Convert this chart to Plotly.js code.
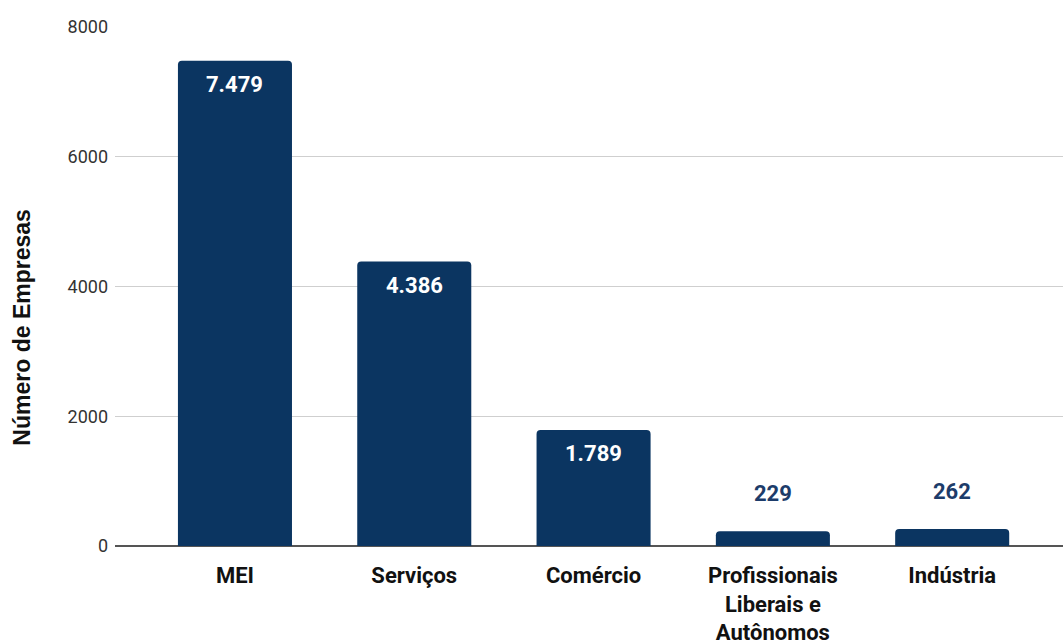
<!DOCTYPE html>
<html>
<head>
<meta charset="utf-8">
<script src="https://cdn.plot.ly/plotly-3.0.1.min.js"></script>
<style>html,body{margin:0;padding:0;background:#fff;}#chart{width:1063px;height:644px;}</style>
</head>
<body>
<div id="chart"></div>
<script>
const categories = ["MEI", "Serviços", "Comércio", "Profissionais<br>Liberais e<br>Autônomos", "Indústria"];
const values = [7479, 4386, 1789, 229, 262];
const yTicks = [0, 2000, 4000, 6000, 8000];
const yTitle = "Número de Empresas";

const barColor = "#0b3561";
const outsideColor = "#1d3c6a";

const trace = {
  type: "bar",
  x: categories,
  y: values,
  marker: {color: barColor, cornerradius: 4},
  textposition: "none",
  hoverinfo: "x+y"
};

const annotations = values.map((v, i) => {
  const inside = v > 1000;
  return {
    x: categories[i], y: v, xref: "x", yref: "y",
    text: v.toLocaleString("pt-BR"),
    showarrow: false,
    yshift: inside ? -24 : 38,
    font: {family: "Roboto", size: 22, color: inside ? "#ffffff" : outsideColor, weight: 700}
  };
});
annotations.push({
  xref: "paper", yref: "paper", x: -0.0985, y: 0.42,
  xanchor: "center", yanchor: "middle",
  text: yTitle, textangle: -90, showarrow: false,
  font: {family: "Liberation Sans, Arial", size: 23, color: "#111", weight: 700}
});

const layout = {
  width: 1063, height: 644,
  margin: {l: 115, r: 0, t: 27, b: 98},
  paper_bgcolor: "#fff", plot_bgcolor: "#fff",
  showlegend: false,
  bargap: 0.364,
  separators: ",.",
  xaxis: {
    range: [-0.669, 4.618],
    showgrid: false, zeroline: false, showline: false,
    ticks: "",
    ticklabelstandoff: 14,
    tickfont: {family: "Roboto", size: 22, color: "#111", weight: 700},
    fixedrange: true,
    automargin: false
  },
  yaxis: {
    range: [0, 8000],
    tickvals: yTicks,
    ticktext: yTicks.map(String),
    showgrid: true, gridcolor: "#cfcfcf", gridwidth: 1.3,
    zeroline: true, zerolinecolor: "#555", zerolinewidth: 2,
    showline: false, ticks: "",
    ticklabelstandoff: 6,
    tickfont: {family: "Roboto", size: 18, color: "#333"},
    automargin: false,
    fixedrange: true
  },
  annotations: annotations
};

Plotly.newPlot("chart", [trace], layout, {displayModeBar: false, staticPlot: true});
</script>
</body>
</html>
